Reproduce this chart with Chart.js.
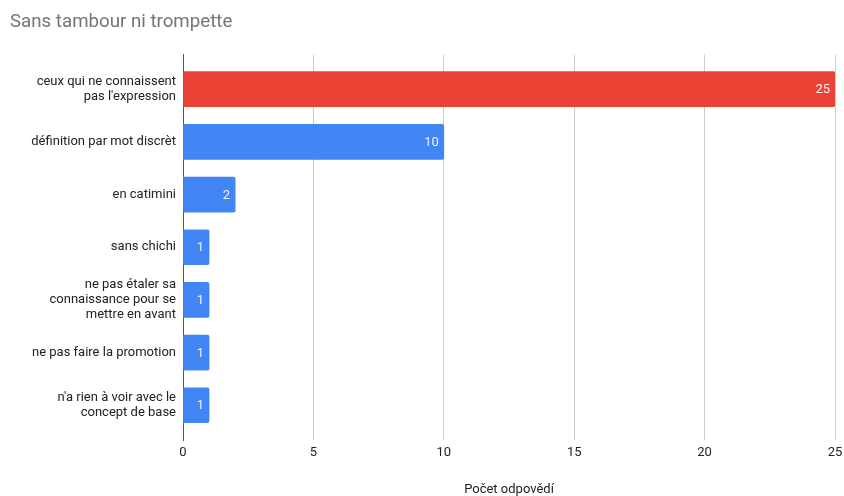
<!DOCTYPE html>
<html>
<head>
<meta charset="utf-8">
<script src="https://cdn.jsdelivr.net/npm/chart.js@4/dist/chart.umd.min.js"></script>
<style>
  html, body { margin: 0; padding: 0; background: #fff; }
  #wrap { width: 844px; height: 496px; }
</style>
</head>
<body>
<div id="wrap"><canvas id="c" width="844" height="496"></canvas></div>
<script>
const chartTitle = "Sans tambour ni trompette";
const xAxisTitle = "Počet odpovědí";
const categories = [
  ["ceux qui ne connaissent", "pas l'expression"],
  ["définition par mot discrèt"],
  ["en catimini"],
  ["sans chichi"],
  ["ne pas étaler sa", "connaissance pour se", "mettre en avant"],
  ["ne pas faire la promotion"],
  ["n'a rien à voir avec le", "concept de base"]
];
const values = [25, 10, 2, 1, 1, 1, 1];
const barColors = ["#ea4335", "#4285f4", "#4285f4", "#4285f4", "#4285f4", "#4285f4", "#4285f4"];
const xTicks = [0, 5, 10, 15, 20, 25];

const valueLabels = {
  id: 'valueLabels',
  afterDatasetsDraw(chart) {
    const ctx = chart.ctx;
    const meta = chart.getDatasetMeta(0);
    ctx.save();
    ctx.font = '13px Roboto';
    ctx.fillStyle = 'rgba(255,255,255,0.92)';
    ctx.textAlign = 'right';
    ctx.textBaseline = 'middle';
    meta.data.forEach((bar, i) => {
      ctx.fillText(String(values[i]), bar.x - 5, bar.y + 1);
    });
    ctx.restore();
  }
};

new Chart(document.getElementById('c'), {
  type: 'bar',
  data: {
    datasets: [{
      data: values.map((v, i) => ({ x: v, y: i })),
      backgroundColor: barColors,
      borderRadius: 2,
      barThickness: 35
    }]
  },
  options: {
    indexAxis: 'y',
    responsive: false,
    animation: false,
    layout: { padding: { left: 10, right: 9, top: 0, bottom: 0 } },
    plugins: {
      legend: { display: false },
      tooltip: { enabled: false },
      title: {
        display: true,
        text: chartTitle,
        align: 'start',
        color: '#757575',
        font: { family: 'Roboto', size: 18.7, weight: 'normal' },
        padding: { top: 11, bottom: 21 }
      }
    },
    scales: {
      x: {
        type: 'linear',
        min: 0,
        max: 25,
        afterBuildTicks(scale) { scale.ticks = xTicks.map(v => ({ value: v })); },
        afterFit(scale) { scale.height = 56; scale.paddingRight = 0; scale.paddingLeft = 0; },
        grid: {
          color: (c) => c.tick && c.tick.value === 0 ? 'rgba(0,0,0,0)' : '#cccccc',
          drawTicks: false
        },
        border: { display: false },
        ticks: {
          color: '#222222',
          font: { family: 'Roboto', size: 13 },
          padding: 5
        },
        title: {
          display: true,
          text: xAxisTitle,
          color: '#222222',
          font: { family: 'Roboto', size: 13, lineHeight: 1 },
          padding: { top: 0, bottom: 0 }
        }
      },
      y: {
        type: 'linear',
        reverse: true,
        offset: false,
        min: -0.66,
        max: 6.66,
        afterBuildTicks(scale) { scale.ticks = categories.map((c, i) => ({ value: i })); },
        afterFit(scale) { scale.width = 173; },
        grid: { display: false, drawTicks: false },
        border: { display: true, color: '#555555', width: 1 },
        ticks: {
          color: '#222222',
          font: { family: 'Roboto', size: 13, lineHeight: 1.15 },
          padding: 7,
          callback: (v) => categories[v]
        }
      }
    }
  },
  plugins: [valueLabels]
});
</script>
</body>
</html>
